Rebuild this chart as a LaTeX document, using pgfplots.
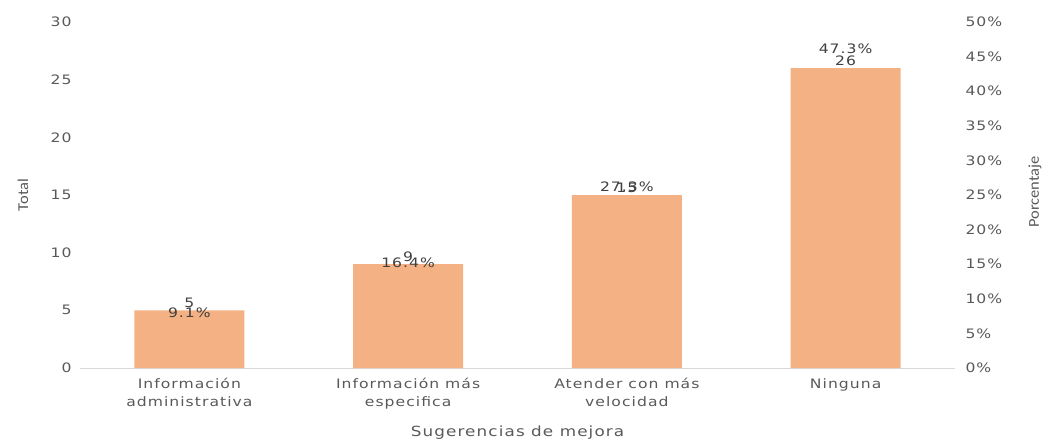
\documentclass[border=0pt]{standalone}
\usepackage{pgfplots}
\pgfplotsset{compat=1.18}
\usepackage{fontspec}
\setmainfont{DejaVu Sans}[FakeStretch=1.2, LetterSpace=8]
\newfontfamily\calib{Carlito}[FakeStretch=1.1]
\definecolor{barc}{HTML}{F4B183}
\definecolor{tickc}{HTML}{595959}
\definecolor{labc}{HTML}{404040}
\definecolor{axc}{HTML}{D9D9D9}
\begin{document}
\begin{tikzpicture}
\path[use as bounding box] (-80pt,-71pt) rectangle (964pt,368pt);
\begin{axis}[
  at={(0pt,0pt)}, anchor=south west,
  scale only axis, width=875pt, height=346pt,
  xmin=-0.5, xmax=3.5, ymin=0, ymax=30,
  axis x line*=bottom, axis y line*=left,
  x axis line style={draw=axc, line width=1pt, -},
  y axis line style={draw=none},
  major tick length=0pt,
  ytick={0,5,...,30},
  xtick={0,1,2,3},
  xticklabels={{Información\\administrativa},{Información más\\especifica},{Atender con más\\velocidad},{Ninguna}},
  xticklabel style={align=center, font=\fontsize{13}{17.5}\selectfont, text=tickc, yshift=-7pt},
  yticklabel style={font=\fontsize{13}{15}\selectfont, text=tickc, xshift=-5pt},
  /pgf/number format/assume math mode=true,
  clip=false,
]
\addplot[ybar, fill=barc, draw=none, bar width=110pt,
  nodes near coords, every node near coord/.append style={font=\fontsize{13}{15}\selectfont, text=labc, inner sep=1pt, yshift=1pt}]
  coordinates {(0,5)(1,9)(2,15)(3,26)};
\end{axis}
\begin{axis}[
  at={(0pt,0pt)}, anchor=south west,
  scale only axis, width=875pt, height=346pt,
  xmin=-0.5, xmax=3.5, ymin=0, ymax=50,
  axis x line=none, axis y line*=right,
  y axis line style={draw=none},
  major tick length=0pt,
  ytick={0,5,...,50},
  yticklabel={\pgfmathprintnumber{\tick}\%},
  yticklabel style={font=\fontsize{13}{15}\selectfont, text=tickc, xshift=7pt},
  /pgf/number format/assume math mode=true,
  clip=false,
]
\addplot[draw=none, mark=none, point meta=explicit symbolic,
  nodes near coords, every node near coord/.append style={font=\fontsize{13}{15}\selectfont, text=labc, anchor=north, inner sep=1pt, yshift=-2pt}]
  coordinates {(0,9.1) [9.1\%] (1,16.4) [16.4\%] (2,27.3) [27.3\%] (3,47.3) [47.3\%]};
\end{axis}
\node[rotate=90, text=tickc, font=\calib\fontsize{15}{17}\selectfont] at (-57pt,173pt) {Total};
\node[rotate=90, text=tickc, font=\calib\fontsize{15}{17}\selectfont] at (955pt,176pt) {Porcentaje};
\node[text=tickc, font=\fontsize{14}{16}\selectfont] at (437.5pt,-65pt) {Sugerencias de mejora};
\end{tikzpicture}
\end{document}
